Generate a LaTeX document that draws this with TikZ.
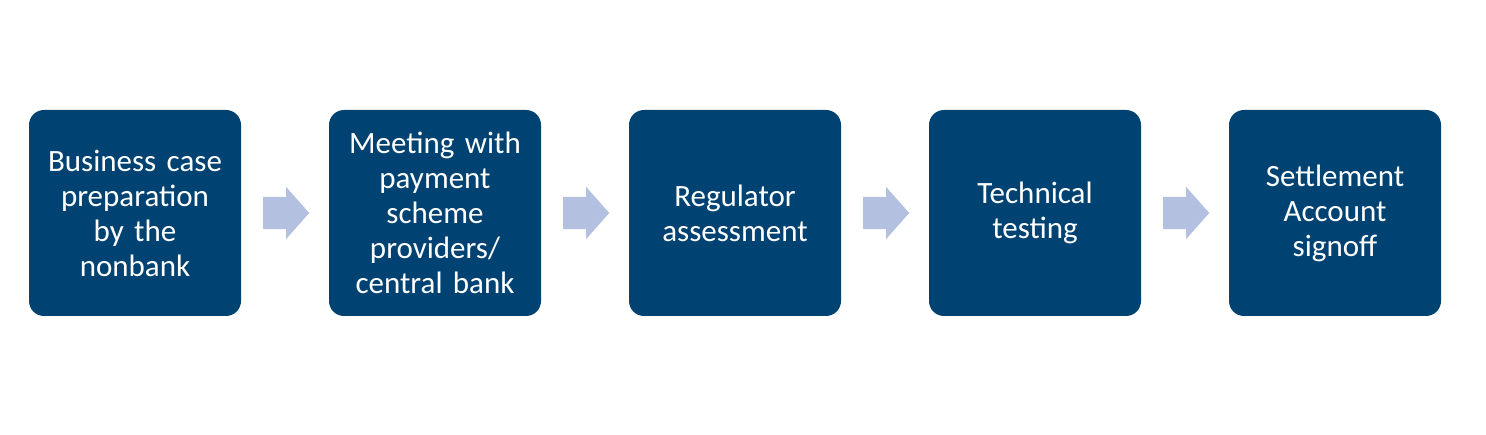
\documentclass[tikz,border=0pt]{standalone}
\usepackage{fontspec}
\setmainfont{Carlito}
\definecolor{StepBlue}{RGB}{0,67,115}
\definecolor{ArrowLilac}{RGB}{180,192,224}
\usetikzlibrary{positioning,calc,shapes.arrows}

\begin{document}
\begin{tikzpicture}[
  stepbox/.style={fill=StepBlue,rounded corners=15pt,minimum width=212pt,minimum height=206pt,
    text width=205pt,align=center,text=white,inner sep=0pt,outer sep=0pt,font=\fontsize{31}{35}\selectfont},
  flowarrow/.style={single arrow,fill=ArrowLilac,draw=none,inner xsep=0pt,inner ysep=16pt,
    minimum height=46pt,single arrow head extend=10pt,single arrow tip angle=97,anchor=tail},
  node distance=88pt
]
\useasboundingbox (0,0) rectangle (1486pt,-435pt);
\node[stepbox] (b1) at (135pt,-213pt) {Business case\\preparation\\by the\\nonbank};
\node[stepbox,right=of b1] (b2) {Meeting with\\payment\\scheme\\providers/\\central bank};
\node[stepbox,right=of b2] (b3) {Regulator\\assessment};
\node[stepbox,right=of b3] (b4) {Technical\\testing};
\node[stepbox,right=of b4] (b5) {Settlement\\Account\\signoff};
% arrows between the steps
\foreach \a/\b in {b1/b2,b2/b3,b3/b4,b4/b5}
  \node[flowarrow] (\a-\b) at ($(\a.east)+(22pt,0)$) {};
\end{tikzpicture}
\end{document}
